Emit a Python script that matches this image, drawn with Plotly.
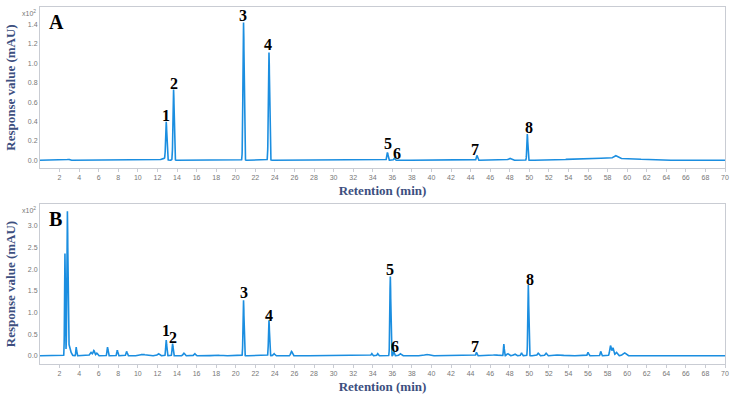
import numpy as np
import plotly.graph_objects as go

# ---- data (retention min, height x10^2 mAU, width min) ----
a_rt = [2.9, 12.6, 12.9, 13.65, 20.8, 23.4, 35.5, 36.2, 44.65, 48.0, 49.8, 57.0, 58.8, 60.5]
a_h = [0.01, 0.02, 0.39, 0.73, 1.42, 1.11, 0.08, 0.02, 0.05, 0.02, 0.27, 0.02, 0.03, 0.01]
a_w = [0.10, 0.20, 0.06, 0.06, 0.06, 0.06, 0.06, 0.06, 0.06, 0.15, 0.05, 2.5, 0.20, 1.0]

b_rt = [2.55, 2.8, 2.95, 3.7, 5.2, 5.5, 5.8, 6.9, 7.9, 8.85, 10.5, 12.1, 12.9, 13.55,
        14.7, 15.8, 18.0, 20.8, 23.4, 23.9, 25.7, 33.9, 34.5, 35.8, 36.15, 36.8, 39.5,
        44.6, 46.5, 47.4, 47.8, 48.5, 49.2, 49.9, 50.9, 51.7, 53.0, 56.0, 57.3, 58.3,
        58.55, 58.9, 59.7]
b_h = [2.35, 3.18, 0.25, 0.20, 0.08, 0.12, 0.06, 0.20, 0.13, 0.10, 0.03, 0.05, 0.36, 0.28,
       0.06, 0.05, 0.02, 1.28, 0.82, 0.05, 0.10, 0.05, 0.05, 1.83, 0.10, 0.05, 0.03,
       0.08, 0.02, 0.27, 0.05, 0.04, 0.07, 1.63, 0.06, 0.06, 0.02, 0.08, 0.10, 0.23,
       0.18, 0.08, 0.07]
b_w = [0.04, 0.05, 0.15, 0.04, 0.10, 0.08, 0.08, 0.05, 0.05, 0.06, 0.30, 0.10, 0.05, 0.05,
       0.08, 0.08, 0.30, 0.05, 0.05, 0.08, 0.08, 0.06, 0.06, 0.05, 0.05, 0.10, 0.20,
       0.05, 0.30, 0.04, 0.10, 0.10, 0.06, 0.05, 0.08, 0.08, 0.40, 0.06, 0.05, 0.08,
       0.08, 0.10, 0.15]

# peak number labels: (label, x, y)
a_lab = ["1", "2", "3", "4", "5", "6", "7", "8"]
a_lx = [12.9, 13.7, 20.75, 23.3, 35.6, 36.5, 44.45, 49.95]
a_ly = [0.46, 0.79, 1.49, 1.19, 0.17, 0.07, 0.11, 0.34]
b_lab = ["1", "2", "3", "4", "5", "6", "7", "8"]
b_lx = [12.9, 13.6, 20.85, 23.4, 35.8, 36.3, 44.45, 50.05]
b_ly = [0.59, 0.43, 1.46, 0.94, 1.98, 0.21, 0.22, 1.77]

x_ticks = list(range(2, 71, 2))
a_yticks = [0.0, 0.2, 0.4, 0.6, 0.8, 1.0, 1.2, 1.4]
b_yticks = [0.0, 0.5, 1.0, 1.5, 2.0, 2.5, 3.0]

t = np.linspace(0, 70, 7001)


def trace(rts, hs, ws):
    y = np.zeros_like(t)
    for r, h, w in zip(rts, hs, ws):
        y += h * np.exp(-0.5 * ((t - r) / w) ** 2)
    return y


LINE = "#1b8ee0"
TITLE_C = "#3d4f80"
GRID_C = "#c9ccd3"
SERIF = "Liberation Serif"

fig = go.Figure()
fig.add_trace(go.Scatter(x=t, y=trace(a_rt, a_h, a_w), mode="lines",
                         line=dict(color=LINE, width=1.6), xaxis="x", yaxis="y", showlegend=False))
fig.add_trace(go.Scatter(x=t, y=trace(b_rt, b_h, b_w), mode="lines",
                         line=dict(color=LINE, width=1.6), xaxis="x2", yaxis="y2", showlegend=False))

xa = dict(range=[0, 70], tickvals=x_ticks, ticks="outside", ticklen=3, tickcolor=GRID_C,
          showline=True, linecolor=GRID_C, mirror=True, showgrid=False, zeroline=False,
          tickfont=dict(family="Liberation Sans", size=7, color="#777"),
          title=dict(text="<b>Retention (min)</b>", font=dict(family=SERIF, size=13, color=TITLE_C), standoff=5))
ya = dict(ticks="", showline=True, linecolor=GRID_C, mirror=True, showgrid=False, zeroline=False,
          tickformat=".1f", tickfont=dict(family="Liberation Sans", size=7, color="#777"),
          title=dict(text="<b>Response value (mAU)</b>", font=dict(family=SERIF, size=13, color=TITLE_C), standoff=9))

fig.update_layout(
    width=735, height=402, margin=dict(l=40, r=6, t=7, b=38),
    paper_bgcolor="white", plot_bgcolor="white",
    xaxis=dict(xa, domain=[0, 1], anchor="y"),
    yaxis=dict(ya, domain=[0.549, 1.0], range=[-0.08, 1.58], tickvals=a_yticks, anchor="x"),
    xaxis2=dict(xa, domain=[0, 1], anchor="y2"),
    yaxis2=dict(ya, domain=[0.0, 0.448], range=[-0.19, 3.5], tickvals=b_yticks, anchor="x2"),
)

ann = []
for lab, x, y in zip(a_lab, a_lx, a_ly):
    ann.append(dict(x=x, y=y, xref="x", yref="y", text="<b>%s</b>" % lab, showarrow=False,
                    font=dict(family=SERIF, size=16, color="black")))
for lab, x, y in zip(b_lab, b_lx, b_ly):
    ann.append(dict(x=x, y=y, xref="x2", yref="y2", text="<b>%s</b>" % lab, showarrow=False,
                    font=dict(family=SERIF, size=16, color="black")))
ann.append(dict(x=0.01, y=0.985, xref="x domain", yref="y domain", text="<b>A</b>", showarrow=False,
                xanchor="left", yanchor="top", font=dict(family=SERIF, size=20, color="black")))
ann.append(dict(x=0.01, y=0.985, xref="x2 domain", yref="y2 domain", text="<b>B</b>", showarrow=False,
                xanchor="left", yanchor="top", font=dict(family=SERIF, size=20, color="black")))
ann.append(dict(x=-0.003, y=1.0, xref="x domain", yref="y domain", text="x10<sup>2</sup>", showarrow=False,
                xanchor="right", yanchor="top", font=dict(family="Liberation Sans", size=7, color="#777")))
ann.append(dict(x=-0.003, y=1.0, xref="x2 domain", yref="y2 domain", text="x10<sup>2</sup>", showarrow=False,
                xanchor="right", yanchor="top", font=dict(family="Liberation Sans", size=7, color="#777")))
fig.update_layout(annotations=ann)

fig.write_html("out.html")
